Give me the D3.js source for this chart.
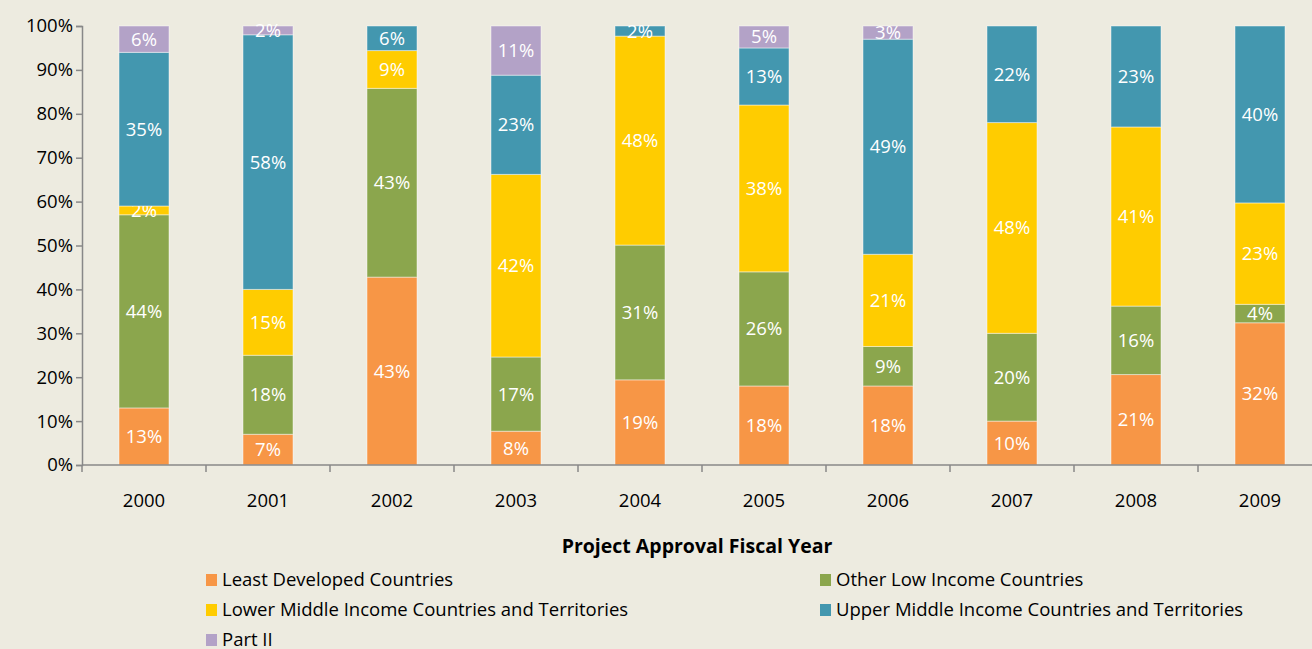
<!DOCTYPE html>
<html>
<head>
<meta charset="utf-8">
<script src="https://cdn.jsdelivr.net/npm/d3@7"></script>
<style>
  body { margin: 0; background: #EDEBE0; }
  svg { display: block; font-family: "Open Sans", "Noto Sans", sans-serif; }
</style>
</head>
<body>
<svg id="chart"></svg>
<script>
var width = 1312;
var height = 649;

var years = ["2000","2001","2002","2003","2004","2005","2006","2007","2008","2009"];
var groups = [
  "Least Developed Countries",
  "Other Low Income Countries",
  "Lower Middle Income Countries and Territories",
  "Upper Middle Income Countries and Territories",
  "Part II"
];
var colors = ["#F79646","#8BA64D","#FFCC00","#4397AF","#B3A2C7"];

// shares per year, in percent
var leastDeveloped = [13, 7, 42.8, 7.7, 19.4, 18, 18, 10, 20.6, 32.4];
var otherLow       = [44, 18, 43.0, 16.9, 30.7, 26, 9, 20, 15.6, 4.2];
var lowerMiddle    = [2, 15, 8.6, 41.6, 47.6, 38, 21, 48, 40.8, 23.1];
var upperMiddle    = [35, 58, 5.6, 22.6, 2.3, 13, 49, 22, 23.0, 40.3];
var partII         = [6, 2, 0, 11.2, 0, 5, 3, 0, 0, 0];
var yTicks = [0,10,20,30,40,50,60,70,80,90,100];

var series = [leastDeveloped, otherLow, lowerMiddle, upperMiddle, partII];
var rows = years.map(function(y, i){
  var r = {year: y};
  groups.forEach(function(g, k){ r[g] = series[k][i]; });
  return r;
});

var margin = {left: 82, top: 26, bottom: 184};
var svg = d3.select('#chart').attr('width', width).attr('height', height);

var x = d3.scaleBand().domain(years).range([margin.left, margin.left + 124*years.length]).paddingInner(0).paddingOuter(0);
var y = d3.scaleLinear().domain([0,100]).range([height - margin.bottom, margin.top]);

var stack = d3.stack().keys(groups)(rows);
var barW = 50;

var layer = svg.selectAll('g.layer').data(stack).enter().append('g')
  .attr('class','layer')
  .attr('fill', function(d, i){ return colors[i]; });

layer.selectAll('rect').data(function(d){ return d.filter(function(p){ return p[1]-p[0] > 0; }); })
  .enter().append('rect')
  .attr('x', function(d){ return x(d.data.year) + x.bandwidth()/2 - barW/2; })
  .attr('y', function(d){ return y(d[1]); })
  .attr('width', barW)
  .attr('height', function(d){ return y(d[0]) - y(d[1]); })
  .attr('stroke', 'rgba(255,255,255,0.45)')
  .attr('stroke-width', 1);

layer.selectAll('text').data(function(d){ return d.filter(function(p){ return p[1]-p[0] > 0; }); })
  .enter().append('text')
  .attr('x', function(d){ return x(d.data.year) + x.bandwidth()/2; })
  .attr('y', function(d){ return (y(d[0]) + y(d[1]))/2; })
  .attr('dy', '0.35em')
  .attr('text-anchor', 'middle')
  .attr('fill', '#fff')
  .attr('font-size', 18.5)
  .text(function(d){ return Math.round(d[1]-d[0]) + '%'; });

// y axis
var yAxis = svg.append('g')
  .attr('transform', 'translate(' + margin.left + ',0)')
  .call(d3.axisLeft(y).tickValues(yTicks).tickSize(6).tickPadding(3).tickFormat(function(d){ return d + '%'; }));
yAxis.select('.domain').attr('stroke', '#888').attr('stroke-width', 1.5);
yAxis.selectAll('.tick line').attr('stroke', '#888').attr('stroke-width', 1.5);
yAxis.selectAll('.tick text').attr('fill', '#000').attr('font-size', 18.5).attr('font-family', '"Open Sans", sans-serif');

// x axis with ticks at category boundaries
var xAxis = svg.append('g')
  .attr('transform', 'translate(0,' + y(0) + ')');
xAxis.append('line').attr('x1', margin.left).attr('x2', width).attr('stroke', '#888').attr('stroke-width', 1.5);
xAxis.selectAll('line.b').data(years.concat(['end'])).enter().append('line')
  .attr('class','b')
  .attr('x1', function(d, i){ return margin.left + i*x.step(); })
  .attr('x2', function(d, i){ return margin.left + i*x.step(); })
  .attr('y1', 0).attr('y2', 7)
  .attr('stroke', '#888').attr('stroke-width', 1.5);
xAxis.selectAll('text').data(years).enter().append('text')
  .attr('x', function(d){ return x(d) + x.bandwidth()/2; })
  .attr('y', 42)
  .attr('text-anchor', 'middle')
  .attr('font-size', 18.5)
  .text(function(d){ return d; });

svg.append('text')
  .attr('x', 697).attr('y', 553)
  .attr('text-anchor', 'middle')
  .attr('font-size', 19.5).attr('font-weight', 'bold')
  .text('Project Approval Fiscal Year');

// legend
var legendPos = [[206,580],[820,580],[206,610],[820,610],[206,640]];
var legend = svg.selectAll('g.legend').data(groups).enter().append('g')
  .attr('class','legend')
  .attr('transform', function(d, i){ return 'translate(' + legendPos[i][0] + ',' + legendPos[i][1] + ')'; });
legend.append('rect').attr('x', 0).attr('y', -6).attr('width', 11).attr('height', 12)
  .attr('fill', function(d, i){ return colors[i]; });
legend.append('text').attr('x', 16).attr('dy', '0.35em').attr('font-size', 18.5)
  .text(function(d){ return d; });
</script>
</body>
</html>
